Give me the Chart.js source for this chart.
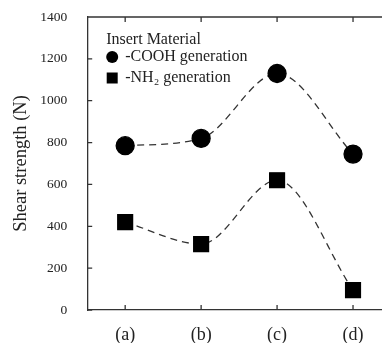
<!DOCTYPE html>
<html>
<head>
<meta charset="utf-8">
<script src="https://cdn.jsdelivr.net/npm/chart.js@4"></script>
<style>
  html, body { margin: 0; padding: 0; overflow: hidden; background: #fff; }
</style>
</head>
<body>
<canvas id="shearChart" width="395" height="343"></canvas>
<script>
const categories = ['(a)', '(b)', '(c)', '(d)'];
const coohValues = [785, 820, 1130, 745];
const nh2Values = [420, 315, 620, 95];
const yTickValues = [0, 200, 400, 600, 800, 1000, 1200, 1400];

const axisColor = '#333';
const serif = '"Liberation Serif", "DejaVu Serif", serif';

// frame on top/right of the plot area, plus the small inward ticks
const framePlugin = {
    id: 'frame',
    afterDraw(chart) {
        const { ctx, chartArea: a, scales } = chart;
        ctx.save();
        ctx.strokeStyle = axisColor;
        ctx.lineWidth = 1.3;
        ctx.beginPath();
        ctx.moveTo(a.left, a.top);
        ctx.lineTo(a.right, a.top);
        ctx.lineTo(a.right, a.bottom);
        categories.forEach((c, i) => {
            const x = scales.x.getPixelForValue(i);
            ctx.moveTo(x, a.top);
            ctx.lineTo(x, a.top + 5);
            ctx.moveTo(x, a.bottom);
            ctx.lineTo(x, a.bottom - 5);
        });
        yTickValues.forEach(v => {
            const y = scales.y.getPixelForValue(v);
            ctx.moveTo(a.left, y);
            ctx.lineTo(a.left + 5, y);
        });
        ctx.stroke();
        ctx.restore();
    }
};

// legend box inside the plot, top-left
const insideLegend = {
    id: 'insideLegend',
    afterDraw(chart) {
        const { ctx, chartArea: a } = chart;
        const x = a.left + 19;
        ctx.save();
        ctx.fillStyle = '#222';
        ctx.font = '16px ' + serif;
        ctx.textBaseline = 'middle';
        ctx.fillText('Insert Material', x, a.top + 23);
        chart.data.datasets.forEach((ds, i) => {
            const y = a.top + 40 + i * 21;
            ctx.fillStyle = '#000';
            ctx.beginPath();
            if (ds.pointStyle === 'circle') {
                ctx.arc(x + 6, y, 6, 0, Math.PI * 2);
            } else {
                ctx.rect(x + 0.5, y - 5.5, 11, 11);
            }
            ctx.fill();
            ctx.fillStyle = '#222';
            ctx.fillText(ds.label, x + 19, y);
        });
        ctx.restore();
    }
};

new Chart(document.getElementById('shearChart'), {
    type: 'line',
    data: {
        labels: categories,
        datasets: [{
            label: '-COOH generation',
            data: coohValues,
            borderColor: axisColor,
            backgroundColor: '#000',
            borderWidth: 1.3,
            borderDash: [7, 5],
            cubicInterpolationMode: 'monotone',
            pointStyle: 'circle',
            pointRadius: 9,
            pointBackgroundColor: '#000',
            pointBorderColor: '#000'
        }, {
            label: '-NH\u2082 generation',
            data: nh2Values,
            borderColor: axisColor,
            backgroundColor: '#000',
            borderWidth: 1.3,
            borderDash: [7, 5],
            cubicInterpolationMode: 'monotone',
            pointStyle: 'rect',
            pointRadius: 10.5,
            pointBackgroundColor: '#000',
            pointBorderColor: '#000'
        }]
    },
    options: {
        responsive: false,
        animation: false,
        layout: { autoPadding: false, padding: { top: 17, left: 10, right: 4, bottom: -5 } },
        scales: {
            x: {
                offset: true,
                grid: { drawOnChartArea: false, tickLength: 12, tickColor: 'rgba(0,0,0,0)' },
                border: { color: axisColor, width: 1.3 },
                ticks: { color: '#222', padding: 4, font: { family: serif, size: 18, lineHeight: 1 } }
            },
            y: {
                min: 0,
                max: 1400,
                afterBuildTicks(axis) { axis.ticks = yTickValues.map(v => ({ value: v })); },
                grid: { drawOnChartArea: false, tickLength: 16, tickColor: 'rgba(0,0,0,0)' },
                border: { color: axisColor, width: 1.3 },
                ticks: {
                    color: '#222',
                    padding: 4,
                    font: { family: serif, size: 13.5 },
                    callback: v => String(v)
                },
                title: {
                    display: true,
                    text: 'Shear strength (N)',
                    color: '#222',
                    padding: { top: 0, bottom: 4 },
                    font: { family: serif, size: 18.5 }
                }
            }
        },
        plugins: {
            legend: { display: false },
            tooltip: { enabled: false }
        }
    },
    plugins: [framePlugin, insideLegend]
});
</script>
</body>
</html>
